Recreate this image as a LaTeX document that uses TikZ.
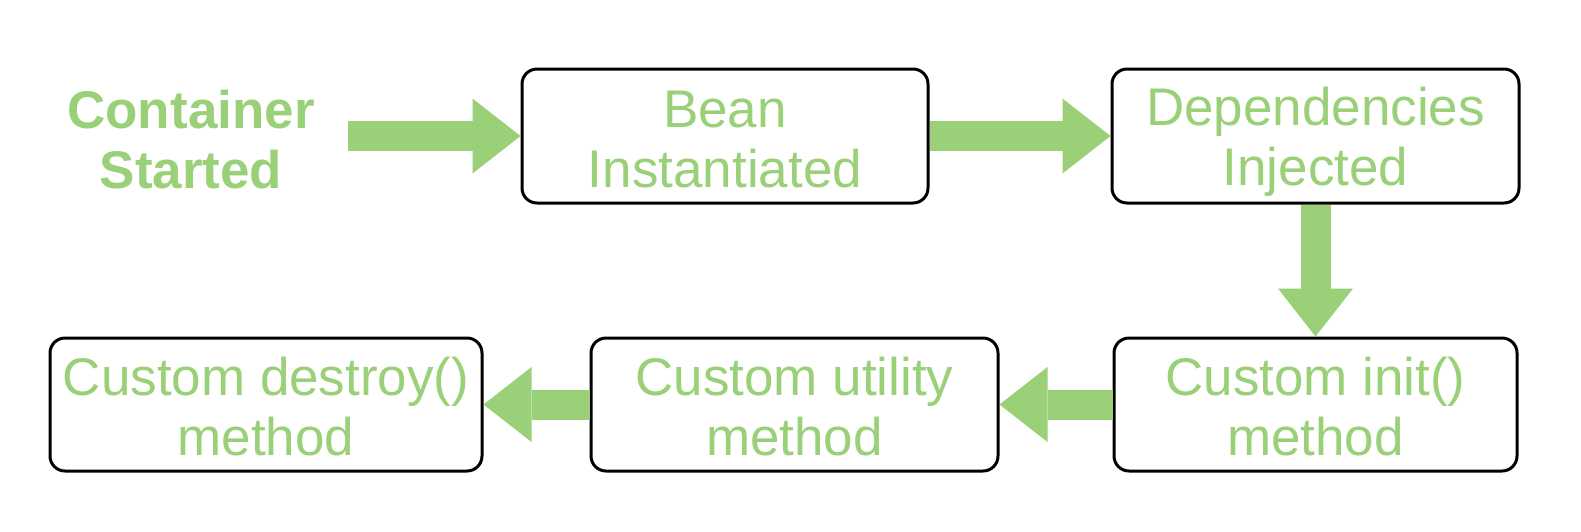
\documentclass[tikz,border=0pt]{standalone}
\usepackage{fontspec}
\setmainfont{Liberation Sans}
\usetikzlibrary{arrows.meta}
\definecolor{lgreen}{RGB}{153,208,120}
\newcommand{\tstrut}{\rule{0pt}{50pt}}
\newcommand{\bstrut}{\rule[-8pt]{0pt}{8pt}}
\tikzset{
  stagebox/.style={draw=black, line width=3pt, rounded corners=15pt, fill=white,
    inner sep=0pt, minimum height=134pt, align=center, text=lgreen,
    font=\fontsize{53}{60}\selectfont},
  fatarrow/.style={draw=lgreen, line width=30pt,
    -{Triangle[length=48pt,width=75pt,line width=0pt,fill=lgreen]}},
}
\begin{document}
\begin{tikzpicture}[x=1pt,y=-1pt]
\useasboundingbox (0,0) rectangle (1581,531);
\node[text=lgreen, align=center, font=\fontsize{53}{60}\selectfont\bfseries] (start) at (191,140) {Container\\Started};
\coordinate (s1) at (348,136);
\node[stagebox, minimum width=406pt] (bean) at (725,136) {\tstrut Bean\\Instantiated\bstrut};
\node[stagebox, minimum width=407pt] (dep) at (1315.5,136) {\tstrut Dependencies\\Injected\bstrut};
\node[stagebox, minimum width=403pt, minimum height=133pt] (init) at (1315.5,404.5) {\tstrut Custom init()\\method\bstrut};
\node[stagebox, minimum width=407pt, minimum height=133pt] (util) at (794.5,404.5) {\tstrut Custom utility\\method\bstrut};
\node[stagebox, minimum width=432pt, minimum height=133pt] (destroy) at (266,404.5) {\tstrut Custom destroy()\\method\bstrut};
\draw[fatarrow] (s1) -- (bean.west);
\draw[fatarrow] (bean.east) -- (dep.west);
\draw[fatarrow] (dep.south) -- (init.north);
\draw[fatarrow] (init.west) -- (util.east);
\draw[fatarrow] (util.west) -- (destroy.east);
\end{tikzpicture}
\end{document}
